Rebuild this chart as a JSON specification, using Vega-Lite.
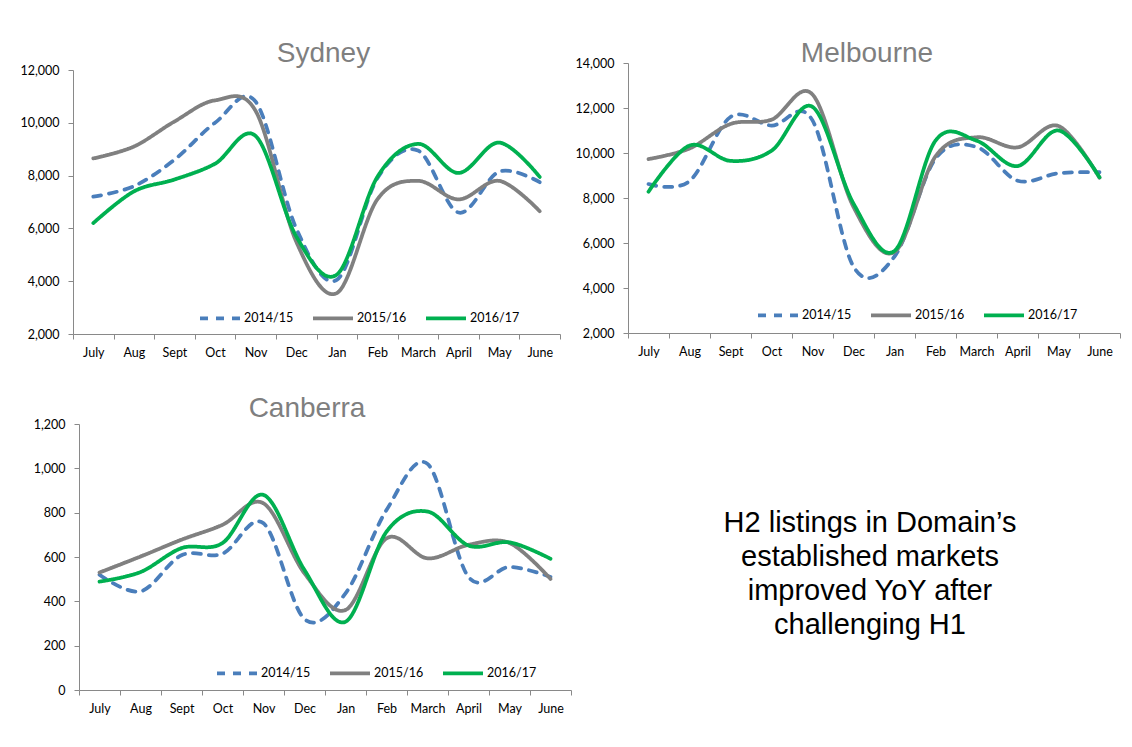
{
  "$schema": "https://vega.github.io/schema/vega-lite/v6.json",
  "background": "white",
  "padding": {"left": 19, "top": 40, "right": 5, "bottom": 5},
  "bounds": "flush",
  "columns": 2,
  "spacing": {"row": 90, "column": 57},
  "resolve": {
    "scale": {"color": "independent", "strokeDash": "independent", "x": "independent", "y": "independent"},
    "legend": {"color": "independent", "strokeDash": "independent"}
  },
  "config": {
    "font": "Lato",
    "view": {"stroke": null},
    "axis": {"domainColor": "#898989", "tickColor": "#898989", "labelColor": "#000000", "labelFont": "Lato", "labelFontSize": 12.5, "grid": false, "tickSize": 5, "domainWidth": 1, "tickWidth": 1},
    "title": {"font": "Liberation Sans", "fontSize": 28, "fontWeight": "normal", "color": "#7f7f7f", "anchor": "middle", "frame": "group", "baseline": "alphabetic"},
    "legend": {"orient": "none", "direction": "horizontal", "title": null, "padding": 0, "symbolType": "stroke", "symbolSize": 1600, "symbolStrokeWidth": 3.75, "labelFont": "Lato", "labelFontSize": 12.5, "labelColor": "#000000", "labelOffset": 2, "columnPadding": 11}
  },
  "datasets": {
    "listings": [
      {"city": "Sydney", "year": "2014/15", "month": "July", "listings": 7200},
      {"city": "Sydney", "year": "2014/15", "month": "Aug", "listings": 7600},
      {"city": "Sydney", "year": "2014/15", "month": "Sept", "listings": 8600},
      {"city": "Sydney", "year": "2014/15", "month": "Oct", "listings": 10000},
      {"city": "Sydney", "year": "2014/15", "month": "Nov", "listings": 10800},
      {"city": "Sydney", "year": "2014/15", "month": "Dec", "listings": 6000},
      {"city": "Sydney", "year": "2014/15", "month": "Jan", "listings": 4050},
      {"city": "Sydney", "year": "2014/15", "month": "Feb", "listings": 7900},
      {"city": "Sydney", "year": "2014/15", "month": "March", "listings": 8950},
      {"city": "Sydney", "year": "2014/15", "month": "April", "listings": 6600},
      {"city": "Sydney", "year": "2014/15", "month": "May", "listings": 8150},
      {"city": "Sydney", "year": "2014/15", "month": "June", "listings": 7750},
      {"city": "Sydney", "year": "2015/16", "month": "July", "listings": 8650},
      {"city": "Sydney", "year": "2015/16", "month": "Aug", "listings": 9100},
      {"city": "Sydney", "year": "2015/16", "month": "Sept", "listings": 10050},
      {"city": "Sydney", "year": "2015/16", "month": "Oct", "listings": 10850},
      {"city": "Sydney", "year": "2015/16", "month": "Nov", "listings": 10450},
      {"city": "Sydney", "year": "2015/16", "month": "Dec", "listings": 5500},
      {"city": "Sydney", "year": "2015/16", "month": "Jan", "listings": 3550},
      {"city": "Sydney", "year": "2015/16", "month": "Feb", "listings": 7100},
      {"city": "Sydney", "year": "2015/16", "month": "March", "listings": 7800},
      {"city": "Sydney", "year": "2015/16", "month": "April", "listings": 7100},
      {"city": "Sydney", "year": "2015/16", "month": "May", "listings": 7800},
      {"city": "Sydney", "year": "2015/16", "month": "June", "listings": 6650},
      {"city": "Sydney", "year": "2016/17", "month": "July", "listings": 6200},
      {"city": "Sydney", "year": "2016/17", "month": "Aug", "listings": 7400},
      {"city": "Sydney", "year": "2016/17", "month": "Sept", "listings": 7850},
      {"city": "Sydney", "year": "2016/17", "month": "Oct", "listings": 8450},
      {"city": "Sydney", "year": "2016/17", "month": "Nov", "listings": 9500},
      {"city": "Sydney", "year": "2016/17", "month": "Dec", "listings": 5700},
      {"city": "Sydney", "year": "2016/17", "month": "Jan", "listings": 4250},
      {"city": "Sydney", "year": "2016/17", "month": "Feb", "listings": 7950},
      {"city": "Sydney", "year": "2016/17", "month": "March", "listings": 9200},
      {"city": "Sydney", "year": "2016/17", "month": "April", "listings": 8100},
      {"city": "Sydney", "year": "2016/17", "month": "May", "listings": 9250},
      {"city": "Sydney", "year": "2016/17", "month": "June", "listings": 7950},
      {"city": "Melbourne", "year": "2014/15", "month": "July", "listings": 8620},
      {"city": "Melbourne", "year": "2014/15", "month": "Aug", "listings": 8750},
      {"city": "Melbourne", "year": "2014/15", "month": "Sept", "listings": 11600},
      {"city": "Melbourne", "year": "2014/15", "month": "Oct", "listings": 11220},
      {"city": "Melbourne", "year": "2014/15", "month": "Nov", "listings": 11450},
      {"city": "Melbourne", "year": "2014/15", "month": "Dec", "listings": 4950},
      {"city": "Melbourne", "year": "2014/15", "month": "Jan", "listings": 5400},
      {"city": "Melbourne", "year": "2014/15", "month": "Feb", "listings": 9750},
      {"city": "Melbourne", "year": "2014/15", "month": "March", "listings": 10270},
      {"city": "Melbourne", "year": "2014/15", "month": "April", "listings": 8770},
      {"city": "Melbourne", "year": "2014/15", "month": "May", "listings": 9100},
      {"city": "Melbourne", "year": "2014/15", "month": "June", "listings": 9150},
      {"city": "Melbourne", "year": "2015/16", "month": "July", "listings": 9730},
      {"city": "Melbourne", "year": "2015/16", "month": "Aug", "listings": 10200},
      {"city": "Melbourne", "year": "2015/16", "month": "Sept", "listings": 11290},
      {"city": "Melbourne", "year": "2015/16", "month": "Oct", "listings": 11480},
      {"city": "Melbourne", "year": "2015/16", "month": "Nov", "listings": 12600},
      {"city": "Melbourne", "year": "2015/16", "month": "Dec", "listings": 7600},
      {"city": "Melbourne", "year": "2015/16", "month": "Jan", "listings": 5600},
      {"city": "Melbourne", "year": "2015/16", "month": "Feb", "listings": 9850},
      {"city": "Melbourne", "year": "2015/16", "month": "March", "listings": 10700},
      {"city": "Melbourne", "year": "2015/16", "month": "April", "listings": 10250},
      {"city": "Melbourne", "year": "2015/16", "month": "May", "listings": 11200},
      {"city": "Melbourne", "year": "2015/16", "month": "June", "listings": 8900},
      {"city": "Melbourne", "year": "2016/17", "month": "July", "listings": 8280},
      {"city": "Melbourne", "year": "2016/17", "month": "Aug", "listings": 10330},
      {"city": "Melbourne", "year": "2016/17", "month": "Sept", "listings": 9650},
      {"city": "Melbourne", "year": "2016/17", "month": "Oct", "listings": 10100},
      {"city": "Melbourne", "year": "2016/17", "month": "Nov", "listings": 12050},
      {"city": "Melbourne", "year": "2016/17", "month": "Dec", "listings": 7750},
      {"city": "Melbourne", "year": "2016/17", "month": "Jan", "listings": 5650},
      {"city": "Melbourne", "year": "2016/17", "month": "Feb", "listings": 10550},
      {"city": "Melbourne", "year": "2016/17", "month": "March", "listings": 10550},
      {"city": "Melbourne", "year": "2016/17", "month": "April", "listings": 9420},
      {"city": "Melbourne", "year": "2016/17", "month": "May", "listings": 11000},
      {"city": "Melbourne", "year": "2016/17", "month": "June", "listings": 8920},
      {"city": "Canberra", "year": "2014/15", "month": "July", "listings": 520},
      {"city": "Canberra", "year": "2014/15", "month": "Aug", "listings": 445},
      {"city": "Canberra", "year": "2014/15", "month": "Sept", "listings": 608},
      {"city": "Canberra", "year": "2014/15", "month": "Oct", "listings": 615},
      {"city": "Canberra", "year": "2014/15", "month": "Nov", "listings": 752},
      {"city": "Canberra", "year": "2014/15", "month": "Dec", "listings": 320},
      {"city": "Canberra", "year": "2014/15", "month": "Jan", "listings": 436},
      {"city": "Canberra", "year": "2014/15", "month": "Feb", "listings": 812},
      {"city": "Canberra", "year": "2014/15", "month": "March", "listings": 1020},
      {"city": "Canberra", "year": "2014/15", "month": "April", "listings": 510},
      {"city": "Canberra", "year": "2014/15", "month": "May", "listings": 555},
      {"city": "Canberra", "year": "2014/15", "month": "June", "listings": 510},
      {"city": "Canberra", "year": "2015/16", "month": "July", "listings": 530},
      {"city": "Canberra", "year": "2015/16", "month": "Aug", "listings": 602},
      {"city": "Canberra", "year": "2015/16", "month": "Sept", "listings": 678},
      {"city": "Canberra", "year": "2015/16", "month": "Oct", "listings": 745},
      {"city": "Canberra", "year": "2015/16", "month": "Nov", "listings": 842},
      {"city": "Canberra", "year": "2015/16", "month": "Dec", "listings": 526},
      {"city": "Canberra", "year": "2015/16", "month": "Jan", "listings": 361},
      {"city": "Canberra", "year": "2015/16", "month": "Feb", "listings": 684},
      {"city": "Canberra", "year": "2015/16", "month": "March", "listings": 594},
      {"city": "Canberra", "year": "2015/16", "month": "April", "listings": 655},
      {"city": "Canberra", "year": "2015/16", "month": "May", "listings": 663},
      {"city": "Canberra", "year": "2015/16", "month": "June", "listings": 501},
      {"city": "Canberra", "year": "2016/17", "month": "July", "listings": 489},
      {"city": "Canberra", "year": "2016/17", "month": "Aug", "listings": 532},
      {"city": "Canberra", "year": "2016/17", "month": "Sept", "listings": 640},
      {"city": "Canberra", "year": "2016/17", "month": "Oct", "listings": 663},
      {"city": "Canberra", "year": "2016/17", "month": "Nov", "listings": 880},
      {"city": "Canberra", "year": "2016/17", "month": "Dec", "listings": 541},
      {"city": "Canberra", "year": "2016/17", "month": "Jan", "listings": 308},
      {"city": "Canberra", "year": "2016/17", "month": "Feb", "listings": 714},
      {"city": "Canberra", "year": "2016/17", "month": "March", "listings": 805},
      {"city": "Canberra", "year": "2016/17", "month": "April", "listings": 652},
      {"city": "Canberra", "year": "2016/17", "month": "May", "listings": 666},
      {"city": "Canberra", "year": "2016/17", "month": "June", "listings": 592}
    ]
  },
  "concat": [
    {
      "title": {"text": "Sydney", "dx": 7, "offset": -5},
      "width": 487,
      "height": 271,
      "data": {"name": "listings"},
      "transform": [{"filter": "datum.city === 'Sydney'"}],
      "mark": {"type": "line", "interpolate": "cardinal", "strokeWidth": 3.75, "strokeCap": "round"},
      "encoding": {
        "x": {"field": "month", "type": "ordinal", "title": null, "bandPosition": 0.5,
          "sort": ["July", "Aug", "Sept", "Oct", "Nov", "Dec", "Jan", "Feb", "March", "April", "May", "June"],
          "scale": {"type": "band", "paddingInner": 0, "paddingOuter": 0},
          "axis": {"tickBand": "extent", "labelAngle": 0, "labelPadding": 7}},
        "y": {"field": "listings", "type": "quantitative", "title": null,
          "scale": {"domain": [2000, 12000], "range": [271, 7], "nice": false, "zero": false},
          "axis": {"values": [2000, 4000, 6000, 8000, 10000, 12000], "format": ",d", "labelPadding": 9}},
        "color": {"field": "year", "type": "nominal",
          "scale": {"domain": ["2014/15", "2015/16", "2016/17"], "range": ["#4a7ebb", "#808080", "#00b050"]},
          "legend": {"legendX": 125, "legendY": 233}},
        "strokeDash": {"field": "year", "type": "nominal",
          "scale": {"domain": ["2014/15", "2015/16", "2016/17"], "range": [[8, 8], [1, 0], [1, 0]]},
          "legend": {"legendX": 125, "legendY": 233}}
      }
    },
    {
      "title": {"text": "Melbourne", "dx": -7, "offset": -11},
      "width": 492,
      "height": 270,
      "data": {"name": "listings"},
      "transform": [{"filter": "datum.city === 'Melbourne'"}],
      "mark": {"type": "line", "interpolate": "cardinal", "strokeWidth": 3.75, "strokeCap": "round"},
      "encoding": {
        "x": {"field": "month", "type": "ordinal", "title": null, "bandPosition": 0.5,
          "sort": ["July", "Aug", "Sept", "Oct", "Nov", "Dec", "Jan", "Feb", "March", "April", "May", "June"],
          "scale": {"type": "band", "paddingInner": 0, "paddingOuter": 0},
          "axis": {"tickBand": "extent", "labelAngle": 0, "labelPadding": 7}},
        "y": {"field": "listings", "type": "quantitative", "title": null,
          "scale": {"domain": [2000, 14000], "nice": false, "zero": false},
          "axis": {"values": [2000, 4000, 6000, 8000, 10000, 12000, 14000], "format": ",d", "labelPadding": 9}},
        "color": {"field": "year", "type": "nominal",
          "scale": {"domain": ["2014/15", "2015/16", "2016/17"], "range": ["#4a7ebb", "#808080", "#00b050"]},
          "legend": {"legendX": 128, "legendY": 230}},
        "strokeDash": {"field": "year", "type": "nominal",
          "scale": {"domain": ["2014/15", "2015/16", "2016/17"], "range": [[8, 8], [1, 0], [1, 0]]},
          "legend": {"legendX": 128, "legendY": 230}}
      }
    },
    {
      "title": {"text": "Canberra", "dx": -15, "offset": -5},
      "width": 498,
      "height": 266,
      "data": {"name": "listings"},
      "transform": [{"filter": "datum.city === 'Canberra'"}],
      "mark": {"type": "line", "interpolate": "cardinal", "strokeWidth": 3.75, "strokeCap": "round"},
      "encoding": {
        "x": {"field": "month", "type": "ordinal", "title": null, "bandPosition": 0.5,
          "sort": ["July", "Aug", "Sept", "Oct", "Nov", "Dec", "Jan", "Feb", "March", "April", "May", "June"],
          "scale": {"type": "band", "paddingInner": 0, "paddingOuter": 0, "range": [6, 498]},
          "axis": {"tickBand": "extent", "labelAngle": 0, "labelPadding": 7}},
        "y": {"field": "listings", "type": "quantitative", "title": null,
          "scale": {"domain": [0, 1200], "nice": false},
          "axis": {"values": [0, 200, 400, 600, 800, 1000, 1200], "format": ",d", "labelPadding": 9, "offset": -6}},
        "color": {"field": "year", "type": "nominal",
          "scale": {"domain": ["2014/15", "2015/16", "2016/17"], "range": ["#4a7ebb", "#808080", "#00b050"]},
          "legend": {"legendX": 142, "legendY": 227}},
        "strokeDash": {"field": "year", "type": "nominal",
          "scale": {"domain": ["2014/15", "2015/16", "2016/17"], "range": [[8, 8], [1, 0], [1, 0]]},
          "legend": {"legendX": 142, "legendY": 227}}
      }
    },
    {
      "width": 484,
      "height": 266,
      "data": {"values": [{"message": ["H2 listings in Domain’s", "established markets", "improved YoY after", "challenging H1"]}]},
      "mark": {"type": "text", "font": "Liberation Sans", "fontSize": 29, "lineHeight": 34, "align": "center", "baseline": "middle", "dy": -34, "color": "#000000"},
      "encoding": {"text": {"field": "message", "type": "nominal"}}
    }
  ]
}
